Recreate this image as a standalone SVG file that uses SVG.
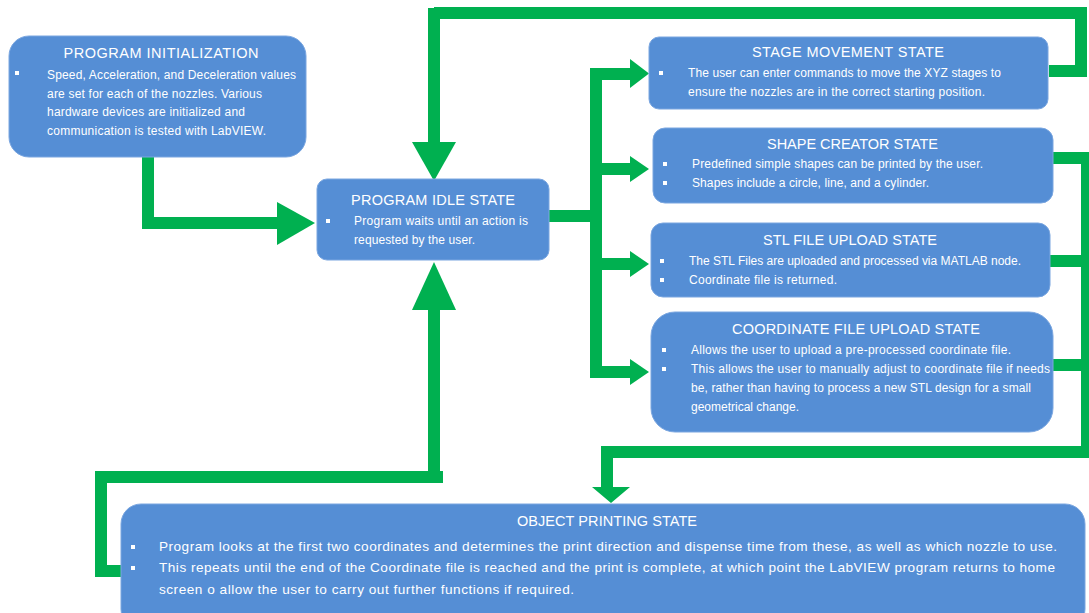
<svg xmlns="http://www.w3.org/2000/svg" width="1089" height="613" viewBox="0 0 1089 613">
<defs>
<style>
.box{fill:#558ED5;stroke:#7aa6e0;stroke-width:1}
.ttl{font-family:"Liberation Sans",Arial,sans-serif;font-size:14.5px;fill:#fff;text-anchor:middle}
.txt{font-family:"Liberation Sans",Arial,sans-serif;font-size:12px;fill:#fff}
.big{font-size:13.6px}
.bul{fill:#fff}
.ln{fill:none;stroke:#00B050;stroke-width:12;stroke-linejoin:miter}
.hd{fill:#00B050}
</style>
</defs>
<rect width="1089" height="613" fill="#fff"/>
<g id="connectors">
  <polyline class="ln" points="148,157 148,223 278,223" stroke-width="13"/>
  <polygon class="hd" points="277,202 277,245 315,223"/>
  <polyline class="ln" points="1049,71 1081,71 1081,13 434,13" stroke-width="11"/>
  <line class="ln" x1="434" y1="8" x2="434" y2="143" stroke-width="18"/>
  <polygon class="hd" points="412,142 456,142 434,181"/>
  <polyline class="ln" points="126,571 101,571 101,477 443,477" stroke-width="12"/>
  <line class="ln" x1="434" y1="483" x2="434" y2="309" stroke-width="18"/>
  <polygon class="hd" points="412,310 456,310 434,262"/>
  <line class="ln" x1="549" y1="216" x2="597" y2="216" stroke-width="13"/>
  <polyline class="ln" points="631,74 596,74 596,372 631,372" stroke-width="13"/>
  <line class="ln" x1="596" y1="169" x2="631" y2="169"/>
  <line class="ln" x1="596" y1="264" x2="631" y2="264"/>
  <polygon class="hd" points="630,59 630,88 649,73.5"/>
  <polygon class="hd" points="630,156 630,182 649,169"/>
  <polygon class="hd" points="630,251 630,277 649,264"/>
  <polygon class="hd" points="630,359 630,385 649,372"/>
  <line class="ln" x1="1053" y1="158" x2="1090" y2="158" stroke-width="10"/>
  <line class="ln" x1="1050" y1="261" x2="1090" y2="261" stroke-width="11"/>
  <line class="ln" x1="1053" y1="365" x2="1090" y2="365" stroke-width="11"/>
  <line class="ln" x1="1087" y1="153" x2="1087" y2="457" stroke-width="10"/>
  <polyline class="ln" points="1092,452 607,452 607,488" stroke-width="11"/>
  <polygon class="hd" points="592,487 630,487 611,503"/>
</g>
<g id="init">
  <rect class="box" x="9" y="36" width="297" height="121" rx="20"/>
  <text class="ttl" x="161" y="58" textLength="195">PROGRAM INITIALIZATION</text>
  <rect class="bul" x="15" y="71" width="4" height="4"/>
  <text class="txt" x="47" y="79" textLength="249">Speed, Acceleration, and Deceleration values</text>
  <text class="txt" x="47" y="97.5" textLength="215">are set for each of the nozzles. Various</text>
  <text class="txt" x="47" y="116" textLength="198">hardware devices are initialized and</text>
  <text class="txt" x="47" y="134.5" textLength="219">communication is tested with LabVIEW.</text>
</g>
<g id="idle">
  <rect class="box" x="317" y="179" width="232" height="81" rx="10"/>
  <text class="ttl" x="433" y="205" textLength="164">PROGRAM IDLE STATE</text>
  <rect class="bul" x="326" y="219" width="4" height="4"/>
  <text class="txt" x="354" y="225" textLength="174">Program waits until an action is</text>
  <text class="txt" x="354" y="244" textLength="121">requested by the user.</text>
</g>
<g id="stage">
  <rect class="box" x="649" y="37" width="399" height="72" rx="10"/>
  <text class="ttl" x="848" y="57" textLength="192">STAGE MOVEMENT STATE</text>
  <rect class="bul" x="659" y="71" width="4" height="4"/>
  <text class="txt" x="688" y="77" textLength="313">The user can enter commands to move the XYZ stages to</text>
  <text class="txt" x="688" y="96" textLength="297">ensure the nozzles are in the correct starting position.</text>
</g>
<g id="shape">
  <rect class="box" x="653" y="128" width="400" height="75" rx="12"/>
  <text class="ttl" x="852.5" y="149" textLength="171">SHAPE CREATOR STATE</text>
  <rect class="bul" x="663" y="162" width="4" height="4"/>
  <text class="txt" x="692" y="168" textLength="291">Predefined simple shapes can be printed by the user.</text>
  <rect class="bul" x="663" y="181" width="4" height="4"/>
  <text class="txt" x="692" y="187" textLength="237">Shapes include a circle, line, and a cylinder.</text>
</g>
<g id="stl">
  <rect class="box" x="651" y="223" width="399" height="74" rx="12"/>
  <text class="ttl" x="850" y="245" textLength="174">STL FILE UPLOAD STATE</text>
  <rect class="bul" x="660" y="259" width="4" height="4"/>
  <text class="txt" x="689" y="265" textLength="332">The STL Files are uploaded and processed via MATLAB node.</text>
  <rect class="bul" x="660" y="278" width="4" height="4"/>
  <text class="txt" x="689" y="284" textLength="148">Coordinate file is returned.</text>
</g>
<g id="coord">
  <rect class="box" x="651" y="312" width="402" height="120" rx="24"/>
  <text class="ttl" x="856" y="334" textLength="248">COORDINATE FILE UPLOAD STATE</text>
  <rect class="bul" x="662" y="348" width="4" height="4"/>
  <text class="txt" x="691" y="354" textLength="320">Allows the user to upload a pre-processed coordinate file.</text>
  <rect class="bul" x="662" y="367" width="4" height="4"/>
  <text class="txt" x="691" y="373" textLength="359">This allows the user to manually adjust to coordinate file if needs</text>
  <text class="txt" x="691" y="392" textLength="340">be, rather than having to process a new STL design for a small</text>
  <text class="txt" x="691" y="411" textLength="108">geometrical change.</text>
</g>
<g id="printing">
  <rect class="box" x="121" y="504" width="964" height="125" rx="20"/>
  <text class="ttl" x="607" y="526" textLength="180">OBJECT PRINTING STATE</text>
  <rect class="bul" x="131" y="545" width="4" height="4"/>
  <text class="txt big" x="159" y="551" textLength="898">Program looks at the first two coordinates and determines the print direction and dispense time from these, as well as which nozzle to use.</text>
  <rect class="bul" x="131" y="566" width="4" height="4"/>
  <text class="txt big" x="159" y="572" textLength="896">This repeats until the end of the Coordinate file is reached and the print is complete, at which point the LabVIEW program returns to home</text>
  <text class="txt big" x="159" y="594" textLength="415">screen o allow the user to carry out further functions if required.</text>
</g>
</svg>
